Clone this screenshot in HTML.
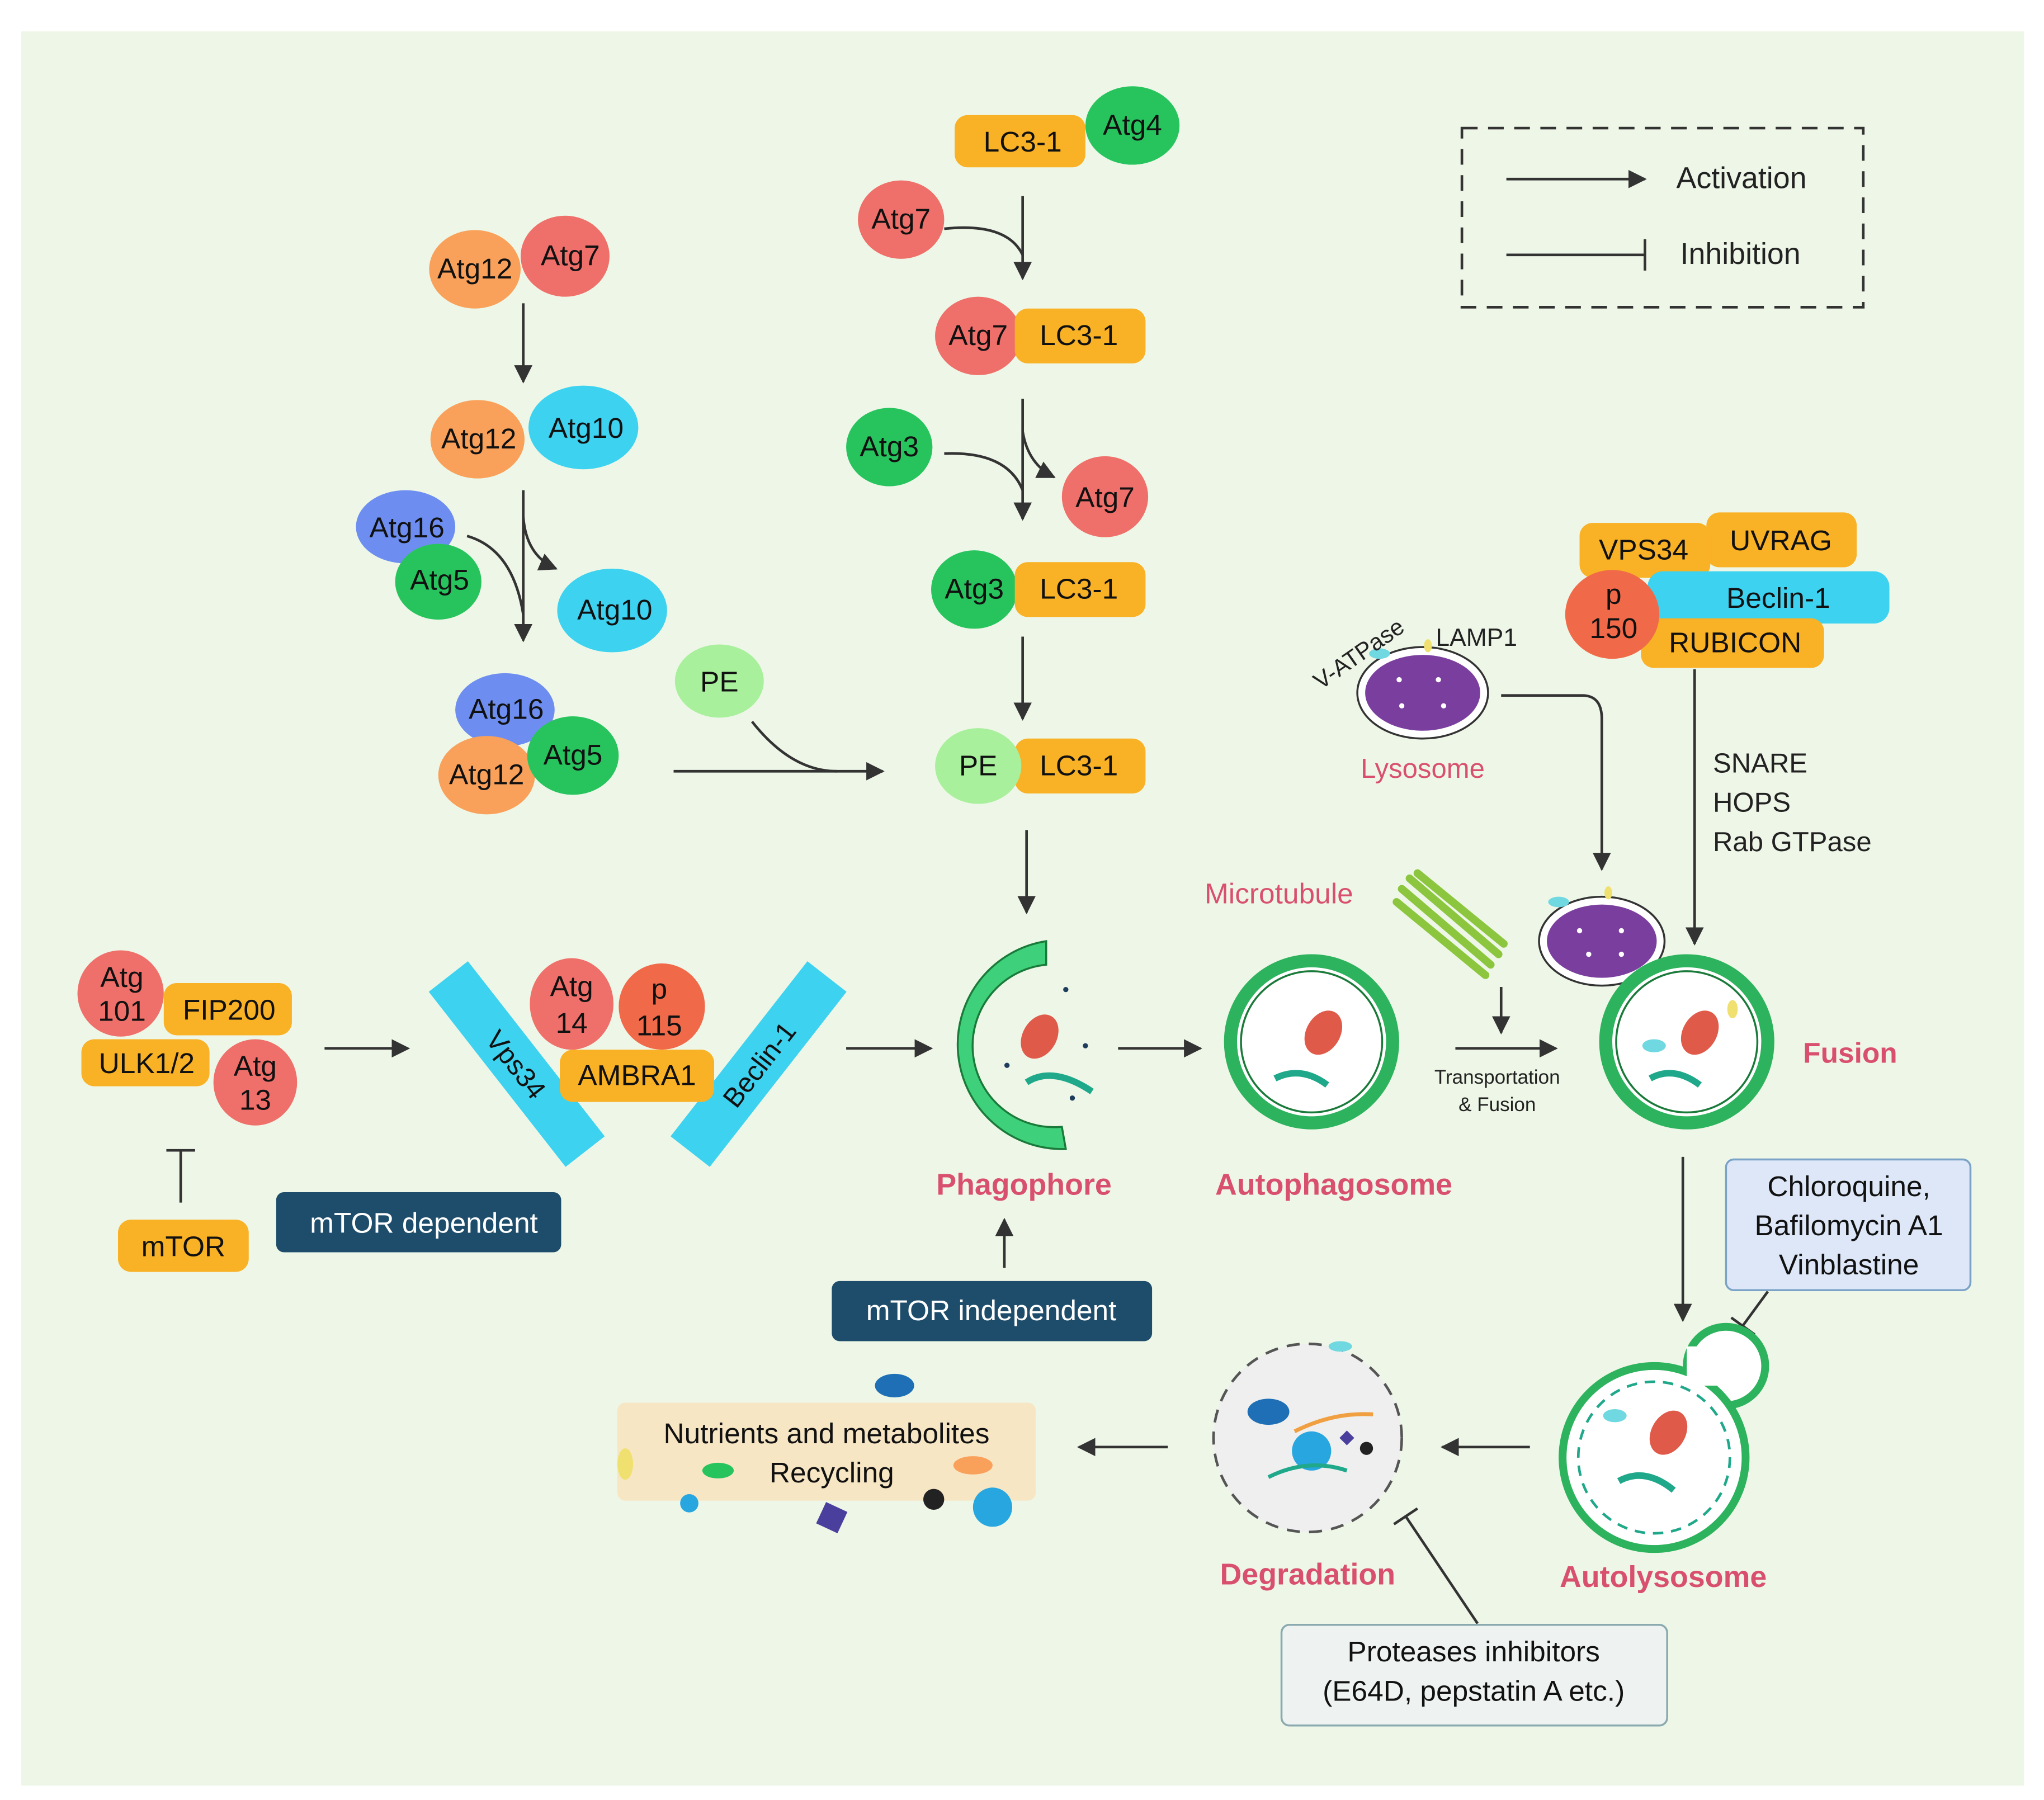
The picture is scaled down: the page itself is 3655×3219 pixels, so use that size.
<!DOCTYPE html>
<html><head><meta charset="utf-8"><style>
html,body{margin:0;padding:0;background:#fff}
svg{display:block}
text{font-family:"Liberation Sans",sans-serif}
</style></head><body>
<svg width="3655" height="3219" viewBox="0 0 1563 1377" xmlns="http://www.w3.org/2000/svg">
<defs>
<marker id="a" viewBox="0 0 10 10" refX="9" refY="5" markerWidth="7" markerHeight="7" orient="auto"><path d="M0,0 L10,5 L0,10 z" fill="#333"/></marker>
</defs>
<rect x="0" y="0" width="1563" height="1377" fill="#fff"/>
<rect x="16" y="24" width="1532" height="1342" fill="#eef7e7"/>

<rect x="1118" y="98" width="307" height="137" fill="none" stroke="#333" stroke-width="2" stroke-dasharray="12,8"/>
<line x1="1152" y1="137" x2="1258" y2="137" stroke="#333" stroke-width="2" marker-end="url(#a)"/>
<text x="1282" y="144" font-size="23" fill="#222">Activation</text>
<line x1="1152" y1="195" x2="1258" y2="195" stroke="#333" stroke-width="2"/>
<line x1="1258" y1="183" x2="1258" y2="207" stroke="#333" stroke-width="2"/>
<text x="1285" y="202" font-size="23" fill="#222">Inhibition</text>

<g font-size="22" fill="#111" text-anchor="middle">
<rect x="730" y="88" width="100" height="40" rx="10" fill="#f9b125"/><text x="782" y="116">LC3-1</text>
<ellipse cx="866" cy="96" rx="36" ry="30" fill="#27c45e"/><text x="866" y="103">Atg4</text>
<ellipse cx="689" cy="168" rx="33" ry="30" fill="#ef6f6a"/><text x="689" y="175">Atg7</text>
<path d="M722,175 Q770,170 782,195" fill="none" stroke="#333" stroke-width="2"/>
<line x1="782" y1="150" x2="782" y2="213" stroke="#333" stroke-width="2" marker-end="url(#a)"/>
<ellipse cx="748" cy="257" rx="33" ry="30" fill="#ef6f6a"/>
<rect x="776" y="236" width="100" height="42" rx="10" fill="#f9b125"/><text x="825" y="264">LC3-1</text><text x="748" y="264">Atg7</text>
<ellipse cx="680" cy="342" rx="33" ry="30" fill="#27c45e"/><text x="680" y="349">Atg3</text>
<path d="M722,347 Q770,345 782,375" fill="none" stroke="#333" stroke-width="2"/>
<line x1="782" y1="305" x2="782" y2="397" stroke="#333" stroke-width="2" marker-end="url(#a)"/>
<path d="M782,330 Q786,355 806,365" fill="none" stroke="#333" stroke-width="2" marker-end="url(#a)"/>
<ellipse cx="845" cy="380" rx="33" ry="31" fill="#ef6f6a"/><text x="845" y="388">Atg7</text>
<ellipse cx="745" cy="451" rx="33" ry="30" fill="#27c45e"/>
<rect x="776" y="430" width="100" height="42" rx="10" fill="#f9b125"/><text x="825" y="458">LC3-1</text><text x="745" y="458">Atg3</text>
<line x1="782" y1="487" x2="782" y2="550" stroke="#333" stroke-width="2" marker-end="url(#a)"/>
<rect x="776" y="565" width="100" height="42" rx="10" fill="#f9b125"/><text x="825" y="593">LC3-1</text>
<ellipse cx="748" cy="586" rx="33" ry="29" fill="#a8f09c"/><text x="748" y="593">PE</text>
<line x1="785" y1="635" x2="785" y2="698" stroke="#333" stroke-width="2" marker-end="url(#a)"/>

<ellipse cx="363" cy="206" rx="35" ry="30" fill="#f9a15a"/><text x="363" y="213">Atg12</text>
<ellipse cx="432" cy="196" rx="34" ry="31" fill="#ef6f6a"/><text x="436" y="203">Atg7</text>
<line x1="400" y1="232" x2="400" y2="292" stroke="#333" stroke-width="2" marker-end="url(#a)"/>
<ellipse cx="446" cy="327" rx="42" ry="32" fill="#3dd2f0"/><text x="448" y="335">Atg10</text>
<ellipse cx="365" cy="336" rx="36" ry="30" fill="#f9a15a"/><text x="366" y="343">Atg12</text>
<line x1="400" y1="375" x2="400" y2="490" stroke="#333" stroke-width="2" marker-end="url(#a)"/>
<path d="M400,395 Q402,425 425,435" fill="none" stroke="#333" stroke-width="2" marker-end="url(#a)"/>
<ellipse cx="468" cy="467" rx="42" ry="32" fill="#3dd2f0"/><text x="470" y="474">Atg10</text>
<ellipse cx="310" cy="403" rx="38" ry="28" fill="#6d8ef0"/><text x="311" y="411">Atg16</text>
<ellipse cx="335" cy="445" rx="33" ry="29" fill="#27c45e"/><text x="336" y="451">Atg5</text>
<path d="M357,410 Q392,420 400,470" fill="none" stroke="#333" stroke-width="2"/>
<ellipse cx="386" cy="543" rx="38" ry="28" fill="#6d8ef0"/><text x="387" y="550">Atg16</text>
<ellipse cx="372" cy="593" rx="37" ry="30" fill="#f9a15a"/><text x="372" y="600">Atg12</text>
<ellipse cx="438" cy="578" rx="35" ry="30" fill="#27c45e"/><text x="438" y="585">Atg5</text>
<ellipse cx="550" cy="521" rx="34" ry="28" fill="#a8f09c"/><text x="550" y="529">PE</text>
<path d="M575,552 Q605,590 640,590" fill="none" stroke="#333" stroke-width="2"/>
<line x1="515" y1="590" x2="675" y2="590" stroke="#333" stroke-width="2" marker-end="url(#a)"/>

<rect x="1305" y="392" width="115" height="42" rx="10" fill="#f9b125"/><text x="1362" y="421">UVRAG</text>
<rect x="1208" y="400" width="100" height="42" rx="10" fill="#f9b125"/><text x="1257" y="428">VPS34</text>
<rect x="1260" y="437" width="185" height="40" rx="12" fill="#3dd2f0"/><text x="1360" y="465">Beclin-1</text>
<rect x="1255" y="473" width="140" height="38" rx="10" fill="#f9b125"/><text x="1327" y="499">RUBICON</text>
<ellipse cx="1233" cy="470" rx="36" ry="34" fill="#f06a4a"/><text x="1234" y="462">p</text><text x="1234" y="488">150</text>
</g>
<line x1="1296" y1="512" x2="1296" y2="722" stroke="#333" stroke-width="2" marker-end="url(#a)"/>
<g font-size="21" fill="#222"><text x="1310" y="591">SNARE</text><text x="1310" y="621">HOPS</text><text x="1310" y="651">Rab GTPase</text></g>

<ellipse cx="1088" cy="530" rx="50" ry="35" fill="#fff" stroke="#333" stroke-width="1.5"/>
<ellipse cx="1088" cy="530" rx="44" ry="29" fill="#7a3f9e"/>
<g fill="#fff"><circle cx="1070" cy="520" r="2"/><circle cx="1100" cy="520" r="2"/><circle cx="1072" cy="540" r="2"/><circle cx="1104" cy="540" r="2"/></g>
<ellipse cx="1055" cy="500" rx="8" ry="4" fill="#6fd8e0"/>
<ellipse cx="1092" cy="494" rx="3" ry="5" fill="#f0e070"/>
<text x="1010" y="528" font-size="18" fill="#222" transform="rotate(-35 1010 528)">V-ATPase</text>
<text x="1098" y="494" font-size="19" fill="#222">LAMP1</text>
<text x="1088" y="595" font-size="21" fill="#d9506e" text-anchor="middle">Lysosome</text>
<path d="M1148,532 L1210,532 Q1225,532 1225,550 L1225,665" fill="none" stroke="#333" stroke-width="2" marker-end="url(#a)"/>
<ellipse cx="1225" cy="720" rx="48" ry="34" fill="#fff" stroke="#333" stroke-width="1.5"/>
<ellipse cx="1225" cy="720" rx="42" ry="28" fill="#7a3f9e"/>
<g fill="#fff"><circle cx="1208" cy="712" r="2"/><circle cx="1240" cy="712" r="2"/><circle cx="1215" cy="730" r="2"/><circle cx="1240" cy="730" r="2"/></g>
<ellipse cx="1192" cy="690" rx="8" ry="4" fill="#6fd8e0"/>
<ellipse cx="1230" cy="683" rx="3" ry="5" fill="#f0e070"/>

<circle cx="1290" cy="797" r="62" fill="#fff" stroke="#2db35d" stroke-width="10"/>
<circle cx="1290" cy="797" r="54" fill="none" stroke="#1a7a3a" stroke-width="1.5"/>
<ellipse cx="1300" cy="790" rx="13" ry="18" fill="#e05a4a" transform="rotate(30 1300 790)"/>
<path d="M1262,825 Q1280,815 1300,830" stroke="#20a88a" stroke-width="5" fill="none"/>
<ellipse cx="1265" cy="800" rx="9" ry="5" fill="#6fd8e0"/><ellipse cx="1325" cy="772" rx="4" ry="7" fill="#f0e070"/>
<text x="1415" y="813" font-size="22" font-weight="bold" fill="#d9506e" text-anchor="middle">Fusion</text>

<text x="978" y="691" font-size="22" fill="#d9506e" text-anchor="middle">Microtubule</text>
<g stroke="#8cc63f" stroke-width="6" stroke-linecap="round">
<line x1="1072" y1="680" x2="1140" y2="738"/><line x1="1078" y1="672" x2="1146" y2="730"/><line x1="1068" y1="690" x2="1136" y2="746"/><line x1="1084" y1="668" x2="1150" y2="722"/></g>
<line x1="1148" y1="755" x2="1148" y2="790" stroke="#333" stroke-width="2" marker-end="url(#a)"/>
<line x1="1113" y1="802" x2="1190" y2="802" stroke="#333" stroke-width="2" marker-end="url(#a)"/>
<text x="1145" y="829" font-size="15" fill="#222" text-anchor="middle">Transportation</text>
<text x="1145" y="850" font-size="15" fill="#222" text-anchor="middle">&amp; Fusion</text>

<circle cx="1003" cy="797" r="62" fill="#fff" stroke="#2db35d" stroke-width="10"/>
<circle cx="1003" cy="797" r="54" fill="none" stroke="#1a7a3a" stroke-width="1.5"/>
<ellipse cx="1012" cy="790" rx="13" ry="18" fill="#e05a4a" transform="rotate(30 1012 790)"/>
<path d="M975,825 Q995,815 1015,830" stroke="#20a88a" stroke-width="5" fill="none"/>
<text x="1020" y="914" font-size="23" font-weight="bold" fill="#d9506e" text-anchor="middle">Autophagosome</text>
<line x1="855" y1="802" x2="918" y2="802" stroke="#333" stroke-width="2" marker-end="url(#a)"/>

<path d="M800,720 A80,80 0 0 0 815,879 L812,862 A62,62 0 0 1 800,738 Z" fill="#3ed07a" stroke="#1a7a3a" stroke-width="1.5"/>
<ellipse cx="795" cy="793" rx="13" ry="18" fill="#e05a4a" transform="rotate(30 795 793)"/>
<path d="M785,828 Q805,815 835,835" stroke="#20a88a" stroke-width="5" fill="none"/>
<g fill="#1e3d5c"><circle cx="815" cy="757" r="2"/><circle cx="830" cy="800" r="2"/><circle cx="770" cy="815" r="2"/><circle cx="820" cy="840" r="2"/></g>
<text x="783" y="914" font-size="23" font-weight="bold" fill="#d9506e" text-anchor="middle">Phagophore</text>
<line x1="647" y1="802" x2="712" y2="802" stroke="#333" stroke-width="2" marker-end="url(#a)"/>
<rect x="636" y="980" width="245" height="46" rx="6" fill="#1e4d6b"/>
<text x="758" y="1010" font-size="22" fill="#fff" text-anchor="middle">mTOR independent</text>
<line x1="768" y1="970" x2="768" y2="933" stroke="#333" stroke-width="2" marker-end="url(#a)"/>

<g font-size="22" fill="#111" text-anchor="middle">
<rect x="125" y="752" width="98" height="40" rx="10" fill="#f9b125"/><text x="175" y="780">FIP200</text>
<ellipse cx="92" cy="760" rx="33" ry="33" fill="#ef6f6a"/><text x="93" y="755">Atg</text><text x="93" y="781">101</text>
<rect x="62" y="795" width="98" height="36" rx="10" fill="#f9b125"/><text x="112" y="821">ULK1/2</text>
<ellipse cx="195" cy="828" rx="32" ry="33" fill="#ef6f6a"/><text x="195" y="823">Atg</text><text x="195" y="849">13</text>
<rect x="90" y="933" width="100" height="40" rx="10" fill="#f9b125"/><text x="140" y="961">mTOR</text>
</g>
<line x1="248" y1="802" x2="312" y2="802" stroke="#333" stroke-width="2" marker-end="url(#a)"/>
<line x1="138" y1="920" x2="138" y2="880" stroke="#333" stroke-width="2"/>
<line x1="127" y1="880" x2="149" y2="880" stroke="#333" stroke-width="2"/>
<rect x="211" y="912" width="218" height="46" rx="6" fill="#1e4d6b"/>
<text x="324" y="943" font-size="22" fill="#fff" text-anchor="middle">mTOR dependent</text>

<rect x="310" y="795" width="170" height="38" fill="#3dd2f0" transform="rotate(52 395 814)"/>
<text x="395" y="822" font-size="21" fill="#111" text-anchor="middle" transform="rotate(52 395 814)">Vps34</text>
<rect x="495" y="795" width="170" height="38" fill="#3dd2f0" transform="rotate(-52 580 814)"/>
<text x="580" y="822" font-size="21" fill="#111" text-anchor="middle" transform="rotate(-52 580 814)">Beclin-1</text>
<g font-size="22" fill="#111" text-anchor="middle">
<ellipse cx="437" cy="768" rx="32" ry="35" fill="#ef6f6a"/><text x="437" y="762">Atg</text><text x="437" y="790">14</text>
<ellipse cx="506" cy="770" rx="33" ry="33" fill="#f06a4a"/><text x="504" y="764">p</text><text x="504" y="792">115</text>
<rect x="428" y="803" width="118" height="40" rx="10" fill="#f9b125"/><text x="487" y="830">AMBRA1</text>
</g>

<line x1="1287" y1="885" x2="1287" y2="1010" stroke="#333" stroke-width="2" marker-end="url(#a)"/>
<rect x="1320" y="887" width="187" height="100" rx="6" fill="#dde7f7" stroke="#7ba3c8" stroke-width="1.5"/>
<g font-size="22" fill="#111" text-anchor="middle"><text x="1414" y="915">Chloroquine,</text><text x="1414" y="945">Bafilomycin A1</text><text x="1414" y="975">Vinblastine</text></g>
<line x1="1352" y1="988" x2="1333" y2="1014" stroke="#333" stroke-width="2"/>
<line x1="1324" y1="1008" x2="1342" y2="1021" stroke="#333" stroke-width="2"/>

<circle cx="1320" cy="1045" r="30" fill="#fff" stroke="#2db35d" stroke-width="6"/>
<circle cx="1265" cy="1115" r="70" fill="#fff" stroke="#2db35d" stroke-width="6"/>
<rect x="1290" y="1030" width="30" height="30" fill="#fff"/>
<circle cx="1265" cy="1115" r="58" fill="none" stroke="#20a88a" stroke-width="2" stroke-dasharray="8,6"/>
<ellipse cx="1276" cy="1096" rx="13" ry="18" fill="#e05a4a" transform="rotate(30 1276 1096)"/>
<path d="M1238,1133 Q1258,1122 1280,1140" stroke="#20a88a" stroke-width="5" fill="none"/>
<ellipse cx="1235" cy="1083" rx="9" ry="5" fill="#6fd8e0"/>
<text x="1272" y="1214" font-size="23" font-weight="bold" fill="#d9506e" text-anchor="middle">Autolysosome</text>
<line x1="1170" y1="1107" x2="1103" y2="1107" stroke="#333" stroke-width="2" marker-end="url(#a)"/>

<circle cx="1000" cy="1100" r="72" fill="#eeefee" stroke="#555" stroke-width="2" stroke-dasharray="10,7"/>
<ellipse cx="970" cy="1080" rx="16" ry="10" fill="#1e6fb5"/>
<circle cx="1003" cy="1110" r="15" fill="#27a6e0"/>
<path d="M970,1130 Q1000,1115 1030,1125" stroke="#20a88a" stroke-width="3" fill="none"/>
<path d="M990,1095 Q1020,1080 1050,1082" stroke="#f0a040" stroke-width="3" fill="none"/>
<circle cx="1045" cy="1108" r="5" fill="#222"/><rect x="1026" y="1096" width="8" height="8" fill="#4b3f9e" transform="rotate(45 1030 1100)"/>
<ellipse cx="1025" cy="1030" rx="9" ry="4" fill="#6fd8e0"/>
<text x="1000" y="1212" font-size="23" font-weight="bold" fill="#d9506e" text-anchor="middle">Degradation</text>
<line x1="1130" y1="1242" x2="1075" y2="1160" stroke="#333" stroke-width="2"/>
<line x1="1066" y1="1166" x2="1084" y2="1154" stroke="#333" stroke-width="2"/>
<rect x="980" y="1243" width="295" height="77" rx="6" fill="#eef2f0" stroke="#8aaab0" stroke-width="1.5"/>
<g font-size="22" fill="#111" text-anchor="middle"><text x="1127" y="1271">Proteases inhibitors</text><text x="1127" y="1301">(E64D, pepstatin A etc.)</text></g>
<line x1="893" y1="1107" x2="825" y2="1107" stroke="#333" stroke-width="2" marker-end="url(#a)"/>

<rect x="472" y="1073" width="320" height="75" rx="6" fill="#f7e6c4"/>
<g font-size="22" fill="#111" text-anchor="middle"><text x="632" y="1104">Nutrients and metabolites</text><text x="636" y="1134">Recycling</text></g>
<ellipse cx="684" cy="1060" rx="15" ry="9" fill="#1e6fb5"/>
<ellipse cx="478" cy="1120" rx="6" ry="12" fill="#f0e070"/>
<ellipse cx="549" cy="1125" rx="12" ry="6" fill="#27c45e"/>
<ellipse cx="744" cy="1121" rx="15" ry="7" fill="#f9a15a"/>
<circle cx="527" cy="1150" r="7" fill="#27a6e0"/>
<rect x="627" y="1152" width="18" height="18" fill="#4b3f9e" transform="rotate(25 636 1161)"/>
<circle cx="714" cy="1147" r="8" fill="#222"/>
<circle cx="759" cy="1153" r="15" fill="#27a6e0"/>
</svg>
</body></html>
